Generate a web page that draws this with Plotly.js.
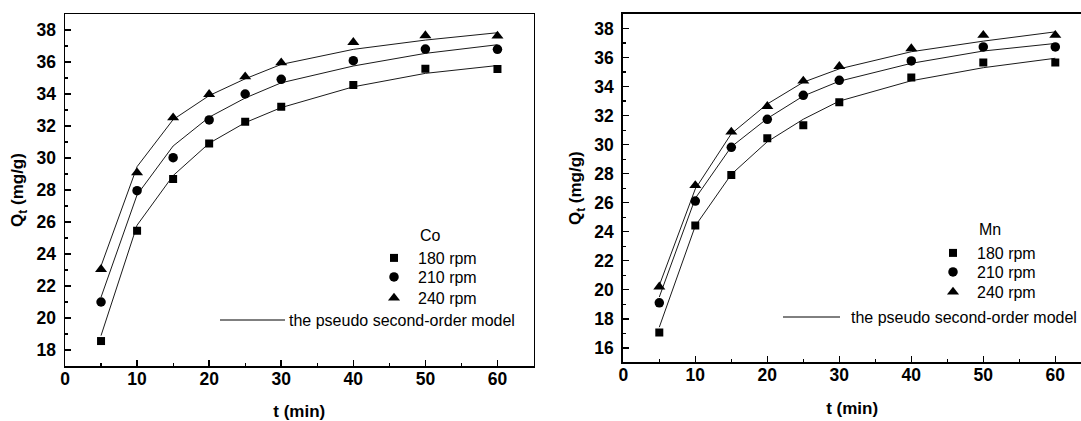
<!DOCTYPE html>
<html>
<head>
<meta charset="utf-8">
<script src="https://cdn.plot.ly/plotly-3.0.1.min.js"></script>
<style>
html,body{margin:0;padding:0;background:#fff;overflow:hidden;}
#chart{width:1081px;height:421px;}
</style>
</head>
<body>
<div id="chart"></div>
<script>
// ---- data ----
const time = [5, 10, 15, 20, 25, 30, 40, 50, 60];
const seriesNames = ['180 rpm', '210 rpm', '240 rpm'];
const modelName = 'the pseudo second-order model';
const panelLabels = ['Co', 'Mn'];

// Co panel: measured points
const co180 = [18.56, 25.46, 28.69, 30.90, 32.27, 33.21, 34.56, 35.58, 35.56];
const co210 = [21.00, 27.96, 30.02, 32.38, 34.00, 34.92, 36.08, 36.81, 36.79];
const co240 = [23.04, 29.08, 32.52, 33.98, 35.08, 35.96, 37.23, 37.65, 37.63];
// Co panel: pseudo second-order model
const coFit180 = [18.90, 25.80, 28.90, 30.92, 32.21, 33.15, 34.45, 35.29, 35.78];
const coFit210 = [21.30, 27.70, 30.75, 32.55, 33.75, 34.70, 35.75, 36.54, 37.08];
const coFit240 = [23.25, 29.46, 32.40, 33.90, 34.95, 35.85, 36.79, 37.37, 37.83];

// Mn panel: measured points
const mn180 = [17.05, 24.43, 27.90, 30.43, 31.33, 32.92, 34.62, 35.66, 35.66];
const mn210 = [19.10, 26.11, 29.81, 31.74, 33.40, 34.43, 35.77, 36.73, 36.73];
const mn240 = [20.20, 27.19, 30.87, 32.64, 34.39, 35.40, 36.62, 37.54, 37.54];
// Mn panel: pseudo second-order model
const mnFit180 = [17.42, 24.40, 27.95, 30.20, 31.75, 33.00, 34.40, 35.30, 35.95];
const mnFit210 = [19.50, 26.30, 29.85, 31.80, 33.35, 34.37, 35.60, 36.45, 36.97];
const mnFit240 = [20.30, 26.95, 30.75, 32.80, 34.30, 35.22, 36.40, 37.13, 37.77];

// ---- styling / layout helpers ----
const W = 1081, H = 421;
const M = {l: 65, r: 0, t: 14, b: 55};
const PW = W - M.l - M.r, PH = H - M.t - M.b;
const px2x = p => (p - M.l) / PW;
const px2y = p => (H - M.b - p) / PH;

const symbols = ['square', 'circle', 'triangle-up'];
const msizes = [8, 9.5, 10.5];
const FONT = 'Liberation Sans, Arial, sans-serif';

// one legend per entry so each entry sits where the reference puts it
const legendIds = [['legend', 'legend2', 'legend3'], ['legend4', 'legend5', 'legend6']];

function panelTraces(meas, fits, xa, ya, legs) {
  const tr = [];
  fits.forEach(f => tr.push({
    x: time, y: f, xaxis: xa, yaxis: ya, type: 'scatter', mode: 'lines',
    line: {color: '#1a1a1a', width: 1}, showlegend: false, hoverinfo: 'skip'
  }));
  meas.forEach((m, i) => tr.push({
    x: time, y: m, xaxis: xa, yaxis: ya, type: 'scatter', mode: 'markers',
    name: seriesNames[i], legend: legs[i],
    marker: {symbol: symbols[i], size: msizes[i], color: '#000'}
  }));
  return tr;
}

const data = [].concat(
  panelTraces([co180, co210, co240], [coFit180, coFit210, coFit240], 'x', 'y', legendIds[0]),
  panelTraces([mn180, mn210, mn240], [mnFit180, mnFit210, mnFit240], 'x2', 'y2', legendIds[1])
);

const TICKFONT = {family: FONT, size: 17.5, color: '#000', weight: 'bold'};
const TITLEFONT = {family: FONT, size: 17, color: '#000', weight: 'bold'};

function xAxis(dom, rng, anchor, lw) {
  return {
    domain: dom, range: rng, anchor: anchor,
    tickvals: [0, 10, 20, 30, 40, 50, 60],
    ticks: 'inside', ticklen: 6, tickwidth: 1.5, tickcolor: '#000',
    minor: {dtick: 5, tick0: 0, ticks: 'inside', ticklen: 3, tickwidth: 1.2, tickcolor: '#000'},
    showline: true, linecolor: '#000', linewidth: lw, mirror: true,
    showgrid: false, zeroline: false,
    tickfont: TICKFONT, ticklabelstandoff: -4,
    title: {text: 't (min)', font: TITLEFONT, standoff: 18}
  };
}
function yAxis(dom, rng, anchor, lw, mirror) {
  return {
    domain: dom, range: rng, anchor: anchor, dtick: 2,
    ticks: 'inside', ticklen: 6, tickwidth: 1.5, tickcolor: '#000',
    minor: {dtick: 1, ticks: 'inside', ticklen: 3, tickwidth: 1.2, tickcolor: '#000'},
    showline: true, linecolor: '#000', linewidth: lw, mirror: mirror,
    showgrid: false, zeroline: false,
    tickfont: TICKFONT, ticklabelstandoff: 4,
    title: {text: 'Q<sub>t</sub> (mg/g)', font: TITLEFONT, standoff: 8}
  };
}

const leftR = 533.5, rightL = 623.3;
const x2max = (W - rightL) / 7.2;

function legendAt(xPx, topPx) {
  return {
    font: {family: FONT, size: 16, color: '#000'},
    bgcolor: 'rgba(0,0,0,0)', borderwidth: 0, itemwidth: 38,
    xanchor: 'left', yanchor: 'top',
    x: px2x(xPx), y: px2y(topPx)
  };
}

const layout = {
  width: W, height: H,
  margin: M,
  paper_bgcolor: '#fff', plot_bgcolor: '#fff',
  showlegend: true,
  xaxis: xAxis([0, px2x(leftR)], [0, 65], 'y', 1.5),
  yaxis: yAxis([0, 1], [17, 39], 'x', 1.5, true),
  xaxis2: xAxis([px2x(rightL), 1], [0, x2max], 'y2', 2),
  yaxis2: yAxis([px2y(362.3), 1], [15, 39], 'x2', 2, false),
  legend: legendAt(370, 241),
  legend2: legendAt(370, 260),
  legend3: legendAt(370, 281),
  legend4: legendAt(929, 236),
  legend5: legendAt(929, 255),
  legend6: legendAt(929, 275),
  annotations: [
    {text: panelLabels[0], xref: 'paper', yref: 'paper', x: px2x(418), y: px2y(236), xanchor: 'left', yanchor: 'middle', showarrow: false, font: {family: FONT, size: 16, color: '#000'}},
    {text: modelName, xref: 'paper', yref: 'paper', x: px2x(287), y: px2y(320), xanchor: 'left', yanchor: 'middle', showarrow: false, font: {family: FONT, size: 16, color: '#000'}},
    {text: panelLabels[1], xref: 'paper', yref: 'paper', x: px2x(977), y: px2y(229), xanchor: 'left', yanchor: 'middle', showarrow: false, font: {family: FONT, size: 16, color: '#000'}},
    {text: modelName, xref: 'paper', yref: 'paper', x: px2x(849), y: px2y(317), xanchor: 'left', yanchor: 'middle', showarrow: false, font: {family: FONT, size: 16, color: '#000'}}
  ],
  shapes: [
    {type: 'line', xref: 'paper', yref: 'paper', x0: px2x(220), x1: px2x(285), y0: px2y(320), y1: px2y(320), line: {color: '#000', width: 1}},
    {type: 'line', xref: 'paper', yref: 'paper', x0: px2x(783), x1: px2x(840), y0: px2y(317), y1: px2y(317), line: {color: '#000', width: 1}}
  ]
};

Plotly.newPlot('chart', data, layout, {staticPlot: true, displayModeBar: false});
</script>
</body>
</html>
